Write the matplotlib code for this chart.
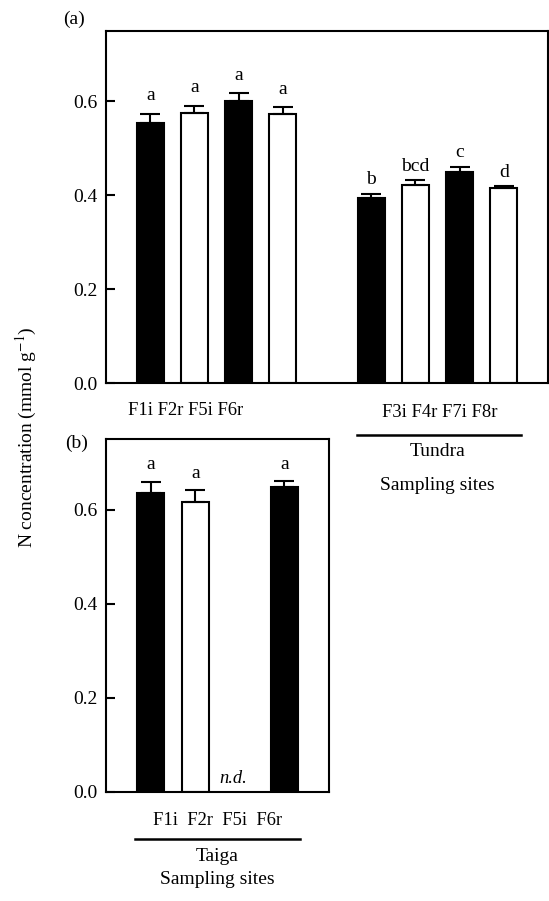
"""N concentration by sampling site: (a) taiga vs tundra, (b) taiga only."""

import matplotlib
matplotlib.use("Agg")
import matplotlib.pyplot as plt
import numpy as np

plt.rcParams["font.family"] = ["Liberation Serif", "DejaVu Serif"]
plt.rcParams["mathtext.fontset"] = "stix"
FS = 14
FS_X = 13.3
plt.rcParams["font.size"] = FS

# panel (a): taiga sites (pos 0-3) and tundra sites (pos 5-8)
sites_a = ["F1i", "F2r", "F5i", "F6r", "F3i", "F4r", "F7i", "F8r"]
pos_a = [0, 1, 2, 3, 5, 6, 7, 8]
mean_a = [0.553, 0.576, 0.601, 0.573, 0.395, 0.421, 0.449, 0.415]
se_a = [0.021, 0.015, 0.016, 0.015, 0.008, 0.011, 0.012, 0.004]
filled_a = [True, False, True, False, True, False, True, False]
letters_a = ["a", "a", "a", "a", "b", "bcd", "c", "d"]

# panel (b): taiga only, F5i not detected
sites_b = ["F1i", "F2r", "F5i", "F6r"]
pos_b = [0, 1, 2, 3]
mean_b = [0.636, 0.617, np.nan, 0.648]
se_b = [0.023, 0.024, np.nan, 0.012]
filled_b = [True, False, None, True]
letters_b = ["a", "a", "", "a"]

W = 0.61


def draw_bars(ax, pos, mean, se, filled, letters, off):
    for x, m, s, f, lab in zip(pos, mean, se, filled, letters):
        if f is None or np.isnan(m):
            continue
        ax.bar(x, m, width=W, color="black" if f else "white",
               edgecolor="black", linewidth=1.5, zorder=2)
        ax.errorbar(x, m, yerr=[[0], [s]], fmt="none", ecolor="black",
                    elinewidth=1.5, capsize=7, capthick=1.5, zorder=3)
        ax.annotate(lab, (x, m + s), xytext=(0, off), textcoords="offset points",
                    ha="center", va="baseline", fontsize=FS)


def style(ax, xlim):
    ax.set_xlim(*xlim)
    ax.set_ylim(0, 0.75)
    ax.set_yticks([0.0, 0.2, 0.4, 0.6])
    ax.set_yticklabels(["0.0", "0.2", "0.4", "0.6"])
    ax.set_xticks([])
    ax.tick_params(axis="y", direction="in", length=6.5, width=1.5, pad=6, labelsize=FS)
    for sp in ax.spines.values():
        sp.set_linewidth(1.5)


fig = plt.figure(figsize=(5.49, 9.01), dpi=100)
ax1 = fig.add_axes([106 / 549, 1 - 383 / 901, 442 / 549, 352 / 901])
ax2 = fig.add_axes([106 / 549, 1 - 792 / 901, 223 / 549, 353 / 901])

draw_bars(ax1, pos_a[:4], mean_a[:4], se_a[:4], filled_a[:4], letters_a[:4], 9.5)
draw_bars(ax1, pos_a[4:], mean_a[4:], se_a[4:], filled_a[4:], letters_a[4:], 7)
draw_bars(ax2, pos_b, mean_b, se_b, filled_b, letters_b, 9)
style(ax1, (-1, 9))
style(ax2, (-1, 4))

# n.d. marker for the missing site
ax2.text(pos_b[2] - 0.15, 0.01, "n.d.", style="italic", ha="center", va="bottom", fontsize=FS_X)

# group labels under panel (a)
tr1 = ax1.get_xaxis_transform()
ax1.text(0.8, -0.078, " ".join(sites_a[:4]), transform=tr1, ha="center", va="center", fontsize=FS_X)
ax1.text(6.55, -0.083, " ".join(sites_a[4:]), transform=tr1, ha="center", va="center", fontsize=FS_X)
ax1.plot([4.69, 8.38], [-0.148, -0.148], transform=tr1, color="black", lw=1.8, clip_on=False)
ax1.text(6.5, -0.196, "Tundra", transform=tr1, ha="center", va="center")
ax1.text(6.5, -0.29, "Sampling sites", transform=tr1, ha="center", va="center")

# group labels under panel (b)
tr2 = ax2.get_xaxis_transform()
ax2.text(1.5, -0.08, "  ".join(sites_b), transform=tr2, ha="center", va="center", fontsize=FS_X)
ax2.plot([-0.35, 3.34], [-0.133, -0.133], transform=tr2, color="black", lw=1.8, clip_on=False)
ax2.text(1.5, -0.184, "Taiga", transform=tr2, ha="center", va="center")
ax2.text(1.5, -0.249, "Sampling sites", transform=tr2, ha="center", va="center")

fig.text(74 / 549, 1 - 19 / 901, "(a)", ha="center", va="center", fontsize=FS)
fig.text(77 / 549, 1 - 443 / 901, "(b)", ha="center", va="center", fontsize=FS)
fig.text(26 / 549, 1 - 437 / 901, "N concentration (mmol g$^{-1}$)",
         rotation=90, ha="center", va="center", fontsize=FS)

fig.savefig("out.png", dpi=100)
